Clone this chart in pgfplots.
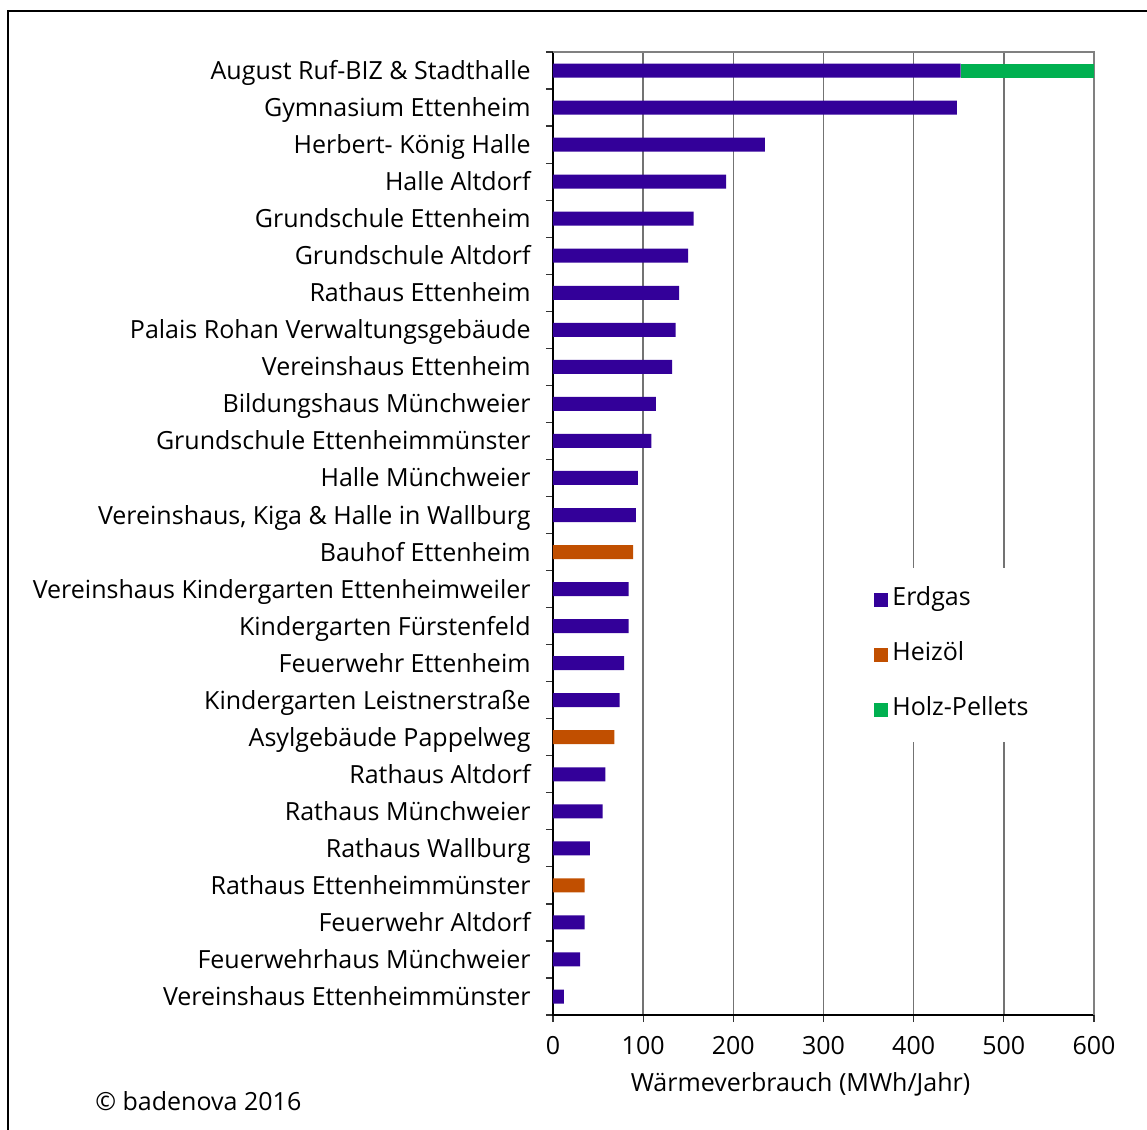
\documentclass[border=0pt]{standalone}
\usepackage{fontspec}
\setmainfont{Open Sans}
\usepackage{pgfplots}
\pgfplotsset{compat=1.18}
\definecolor{erdgas}{RGB}{51,0,153}
\definecolor{heizoel}{RGB}{193,79,0}
\definecolor{pellets}{RGB}{0,176,80}
\newcommand\f{\fontsize{12.5}{15}\selectfont}
\begin{document}
\begin{tikzpicture}[font=\f]
\path[use as bounding box, clip] (0,0) rectangle (573.5pt,-565pt);
\draw[line width=1pt] (4pt,-700pt) -- (4pt,-5.5pt) -- (700pt,-5.5pt);
\begin{axis}[
  at={(276.5pt,-507.5pt)}, anchor=south west,
  width=270.5pt, height=481.5pt, scale only axis,
  xbar stacked, bar width=7pt,
  xmin=0, xmax=600, ymin=-0.5, ymax=25.5, y dir=reverse,
  clip=false,
  axis line style={draw=none},
  xtick={0,100,...,600}, xtick pos=bottom, ytick pos=left,
  xmajorgrids, grid style={black!55, line width=0.7pt},
  ytick={0,...,25},
  minor ytick={-0.5,0.5,...,25.5},
  major y tick style={draw=none},
  tick align=outside,
  major tick length=3.5pt, minor tick length=3.5pt,
  tick style={black!80, line width=0.6pt},
  /pgf/number format/assume math mode=true,
  yticklabels={
    {August Ruf-BIZ \& Stadthalle},
    {Gymnasium Ettenheim\hspace{3pt}},
    {Herbert- König Halle\hspace{3pt}},
    {Halle Altdorf},
    {Grundschule Ettenheim\hspace{3pt}},
    {Grundschule Altdorf\hspace{3pt}},
    {Rathaus Ettenheim},
    {Palais Rohan Verwaltungsgebäude},
    {Vereinshaus Ettenheim},
    {Bildungshaus Münchweier\hspace{3pt}},
    {Grundschule Ettenheimmünster\hspace{3pt}},
    {Halle Münchweier\hspace{3pt}},
    {Vereinshaus, Kiga \& Halle in Wallburg},
    {Bauhof Ettenheim},
    {Vereinshaus Kindergarten Ettenheimweiler},
    {Kindergarten Fürstenfeld},
    {Feuerwehr Ettenheim\hspace{3pt}},
    {Kindergarten Leistnerstraße},
    {Asylgebäude Pappelweg\hspace{6pt}},
    {Rathaus Altdorf},
    {Rathaus Münchweier},
    {Rathaus Wallburg},
    {Rathaus Ettenheimmünster},
    {Feuerwehr Altdorf\hspace{3pt}},
    {Feuerwehrhaus Münchweier\hspace{3pt}},
    {Vereinshaus Ettenheimmünster}},
  yticklabel style={font=\f, inner sep=0pt, xshift=-7.5pt, yshift=-1.5pt, text height=9pt, text depth=3pt},
  xticklabel style={font=\f, inner sep=0pt, yshift=-7pt},
  xlabel={Wärmeverbrauch (MWh/Jahr)},
  xlabel style={font=\f, xshift=-11.5pt, yshift=-5.5pt},
  legend cell align=left,
  legend style={at={(axis cs:346,13.42)}, anchor=north west, draw=none, fill=white,
    inner xsep=4.5pt, inner ysep=8pt, row sep=11.5pt, font=\f,
    nodes={text height=9pt, text depth=3pt}},
  legend image code/.code={\fill[#1] (0pt,-3.5pt) rectangle (7pt,3.5pt);},
]
\addplot[fill=erdgas, draw=none] coordinates {
(452,0) (448,1) (235,2) (192,3) (156,4) (150,5) (140,6) (136,7) (132,8) (114,9)
(109,10) (94,11) (92,12) (0,13) (84,14) (84,15) (79,16) (74,17) (0,18) (58,19)
(55,20) (41,21) (0,22) (35,23) (30,24) (12,25)};
\addlegendentry{Erdgas}
\addplot[fill=heizoel, draw=none] coordinates {
(0,0) (0,1) (0,2) (0,3) (0,4) (0,5) (0,6) (0,7) (0,8) (0,9)
(0,10) (0,11) (0,12) (89,13) (0,14) (0,15) (0,16) (0,17) (68,18) (0,19)
(0,20) (0,21) (35,22) (0,23) (0,24) (0,25)};
\addlegendentry{Heizöl}
\addplot[fill=pellets, draw=none] coordinates {
(148,0) (0,1) (0,2) (0,3) (0,4) (0,5) (0,6) (0,7) (0,8) (0,9)
(0,10) (0,11) (0,12) (0,13) (0,14) (0,15) (0,16) (0,17) (0,18) (0,19)
(0,20) (0,21) (0,22) (0,23) (0,24) (0,25)};
\addlegendentry{Holz-Pellets}
\draw[black!50, line width=0.7pt] (axis cs:0,-0.5) -- (axis cs:600,-0.5) -- (axis cs:600,25.5);
\draw[black, line width=0.6pt] (axis cs:0,-0.5) -- (axis cs:0,25.5) -- (axis cs:600,25.5);
\end{axis}
\node[anchor=west, inner sep=0pt] at (47.5pt,-550.5pt) {© badenova 2016};
\end{tikzpicture}
\end{document}
